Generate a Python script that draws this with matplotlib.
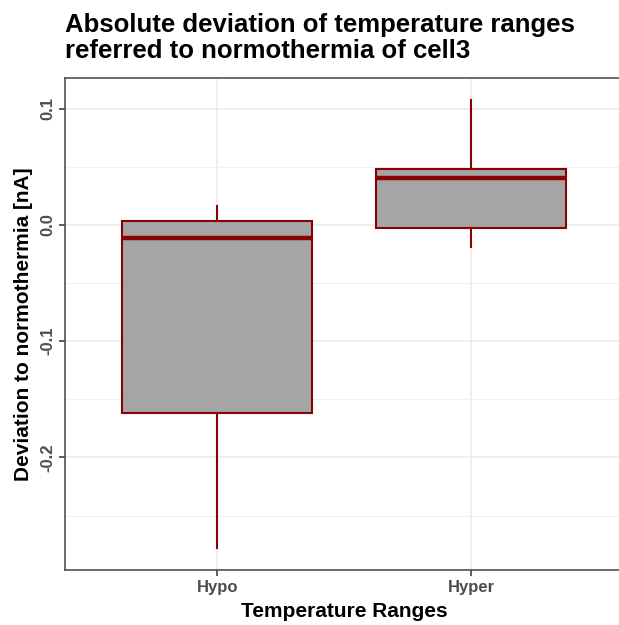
import matplotlib
matplotlib.use('Agg')
import matplotlib.pyplot as plt
from matplotlib.ticker import FixedLocator

plt.rcParams['font.family'] = ['Liberation Sans', 'DejaVu Sans']

# box summaries per temperature range (nA)
categories = ['Hypo', 'Hyper']
whisker_low = [-0.2776, -0.019]
q1 = [-0.162, -0.0026]
median = [-0.011, 0.040]
q3 = [0.003, 0.048]
whisker_high = [0.016, 0.107]

y_major = [-0.2, -0.1, 0.0, 0.1]
y_minor = [-0.25, -0.15, -0.05, 0.05]
y_labels = ['-0.2', '-0.1', '0.0', '0.1']

title = 'Absolute deviation of temperature ranges\nreferred to normothermia of cell3'
xlabel = 'Temperature Ranges'
ylabel = 'Deviation to normothermia [nA]'

fill = '#A5A5A5'
edge = '#8B0000'

W, H = 619, 625
fig = plt.figure(figsize=(W / 100, H / 100), dpi=100)
ax = fig.add_axes([65 / W, 55 / H, (623.4 - 65) / W, 492 / H])

stats = []
for i, name in enumerate(categories):
    stats.append(dict(label=name, whislo=whisker_low[i], q1=q1[i], med=median[i],
                      q3=q3[i], whishi=whisker_high[i], fliers=[]))

positions = list(range(1, len(categories) + 1))
ax.bxp(stats, positions=positions, widths=0.75, patch_artist=True,
       showcaps=False, showfliers=False,
       boxprops=dict(facecolor=fill, edgecolor=edge, linewidth=1.5),
       whiskerprops=dict(color=edge, linewidth=1.5),
       medianprops=dict(color=edge, linewidth=3.2, solid_capstyle='butt'),
       zorder=3)

# ggplot-like expansion: 0.6 on discrete axis, 5% on continuous
lo, hi = min(whisker_low), max(whisker_high)
pad = 0.05 * (hi - lo)
ax.set_ylim(lo - pad, hi + pad)
ax.set_xlim(0.4, len(categories) + 0.6)

ax.set_xticks(positions)
ax.set_xticklabels(categories, fontsize=12, fontweight='bold', color='#4D4D4D')
ax.yaxis.set_major_locator(FixedLocator(y_major))
ax.yaxis.set_minor_locator(FixedLocator(y_minor))
ax.set_yticklabels(y_labels, fontsize=12, fontweight='bold', color='#4D4D4D',
                   rotation=90, va='center')

ax.grid(True, which='major', color='#EBEBEB', linewidth=1.1, zorder=0)
ax.grid(True, which='minor', axis='y', color='#F0F0F0', linewidth=0.8, zorder=0)
ax.set_axisbelow(True)

ax.tick_params(axis='both', which='major', length=4, width=1.1, color='#333333', pad=3)
ax.tick_params(axis='y', which='minor', length=0)
for s in ax.spines.values():
    s.set_color('#444444')
    s.set_linewidth(1.1)

ax.set_xlabel(xlabel, fontsize=15, fontweight='bold', color='black', labelpad=5)
ax.set_ylabel(ylabel, fontsize=15, fontweight='bold', color='black', labelpad=5)

fig.text(65 / W, 1 - 13 / H, title, fontsize=18.5, fontweight='bold', color='black',
         ha='left', va='top', linespacing=1.12)

fig.savefig('out.png', dpi=100)
